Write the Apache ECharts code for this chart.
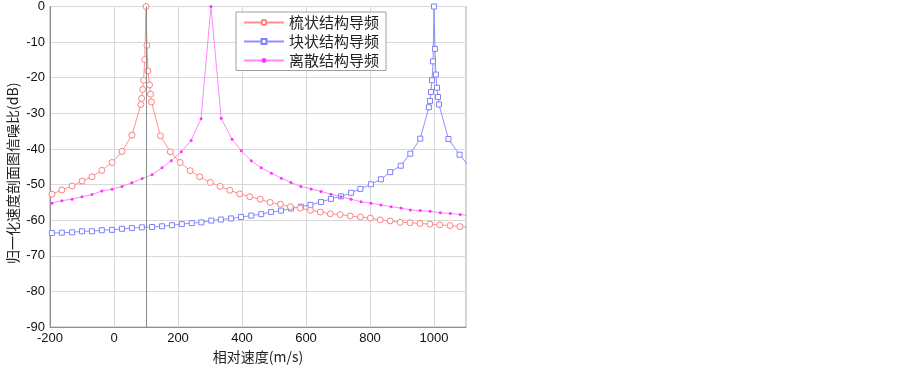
<!DOCTYPE html>
<html>
<head>
<meta charset="utf-8">
<script src="https://cdn.jsdelivr.net/npm/echarts@6/dist/echarts.min.js"></script>
<style>
  html, body { margin: 0; padding: 0; background: #fff; }
  #chart { width: 903px; height: 369px; }
</style>
</head>
<body>
<div id="chart"></div>
<script>
// 梳状结构导频
var combX = [-194, -163, -131, -100, -69, -38, -6, 25, 56, 84, 86.5, 89.5, 92.5, 96, 100,
	103, 106, 111, 114, 117, 145, 176, 207, 238, 268, 301, 332, 362, 393, 424, 457, 488,
	520, 551, 582, 614, 645, 676, 707, 738, 770, 801, 832, 863, 894, 925, 956, 987, 1018,
	1050, 1081, 1112];
var combY = [-52.7, -51.5, -50.4, -49.0, -47.8, -46.0, -43.8, -40.7, -36.1, -27.5, -25.8,
	-23.3, -20.7, -14.9, 0, -10.9, -18.1, -22.0, -24.6, -26.8, -36.3, -40.8, -43.8, -46.1,
	-47.8, -49.4, -50.5, -51.6, -52.6, -53.4, -54.1, -55.0, -55.5, -56.2, -56.6, -57.2,
	-57.7, -58.2, -58.4, -58.8, -59.1, -59.4, -59.9, -60.2, -60.6, -60.7, -60.9, -61.1,
	-61.3, -61.5, -61.8, -62.0];

// 块状结构导频
var blockX = [-194, -163, -131, -100, -69, -38, -6, 25, 56, 87, 119, 150, 181, 212, 243,
	273, 304, 334, 366, 397, 429, 460, 491, 522, 553, 584, 614, 647, 678, 709, 741, 770,
	803, 834, 863, 896, 926, 957, 984, 987.5, 990.6, 993.8, 997, 1000, 1003, 1006, 1009.4,
	1012.5, 1015.6, 1045, 1080, 1112];
var blockY = [-63.6, -63.5, -63.4, -63.1, -63.1, -62.8, -62.7, -62.4, -62.2, -62.0, -61.9,
	-61.7, -61.4, -61.1, -60.8, -60.6, -60.1, -59.8, -59.5, -59.1, -58.7, -58.3, -57.7,
	-57.3, -56.7, -56.2, -55.7, -54.9, -54.0, -53.3, -52.3, -51.2, -49.9, -48.5, -46.5,
	-44.7, -41.3, -37.1, -28.3, -26.5, -24.0, -20.7, -15.4, 0, -11.9, -19.1, -22.8, -25.4,
	-27.5, -37.2, -41.6, -45.2];

// 离散结构导频
var discX = [-194, -163, -131, -100, -69, -38, -6, 25, 56, 88, 119, 150, 179, 210, 241,
	272, 303, 335, 369, 398, 429, 460, 492, 523, 553, 584, 616, 647, 678, 709, 741, 772,
	803, 834, 866, 897, 926, 957, 988, 1020, 1051, 1082, 1113];
var discY = [-55.2, -54.5, -54.1, -53.4, -52.8, -51.8, -51.3, -50.5, -49.5, -48.3, -47.2,
	-45.3, -43.3, -40.8, -37.6, -31.5, 0, -31.4, -37.3, -40.5, -43.3, -45.3, -46.8, -48.2,
	-49.4, -50.5, -51.2, -51.9, -52.7, -53.4, -54.1, -54.8, -55.2, -55.7, -56.2, -56.6,
	-57.1, -57.3, -57.5, -57.9, -58.1, -58.4, -58.7];

var seriesNames = ['梳状结构导频', '块状结构导频', '离散结构导频'];
var refLineX = 100;

function pairs(xs, ys) {
	var out = [];
	for (var i = 0; i < xs.length; i++) {
		out.push([xs[i], ys[i]]);
	}
	return out;
}

var myChart = echarts.init(document.getElementById('chart'));
var option = {
	backgroundColor: '#fff',
	animation: false,
	grid: {
		left: 50,
		right: 437,
		top: 6,
		bottom: 36,
		show: true,
		borderColor: '#a0a0a0',
		borderWidth: 1
	},
	legend: {
		orient: 'vertical',
		left: 236,
		top: 12,
		padding: [1.5, 7, 1, 7],
		itemGap: 1,
		itemWidth: 40,
		itemHeight: 6,
		backgroundColor: '#fff',
		borderColor: '#a0a0a0',
		borderWidth: 1,
		borderRadius: 0,
		textStyle: {
			fontFamily: 'Noto Sans CJK SC',
			fontSize: 15,
			lineHeight: 18,
			color: '#222'
		},
		data: seriesNames
	},
	xAxis: {
		type: 'value',
		min: -200,
		max: 1100,
		interval: 200,
		name: '相对速度(m/s)',
		nameLocation: 'middle',
		nameGap: 18,
		nameTextStyle: {
			fontFamily: 'Noto Sans CJK SC',
			fontSize: 14,
			color: '#222'
		},
		axisLine: { onZero: false, lineStyle: { color: '#909090' } },
		axisTick: { show: false },
		axisLabel: {
			margin: 5,
			showMaxLabel: false,
			fontFamily: 'Liberation Sans',
			fontSize: 13,
			color: '#111',
			formatter: function(v) { return String(v); }
		},
		splitLine: { lineStyle: { color: '#d8d8d8', width: 1 } }
	},
	yAxis: {
		type: 'value',
		min: -90,
		max: 0,
		interval: 10,
		name: '归一化速度剖面图信噪比(dB)',
		nameLocation: 'middle',
		nameGap: 30,
		nameTextStyle: {
			fontFamily: 'Noto Sans CJK SC',
			fontSize: 14,
			color: '#222',
			padding: [0, 13, 0, 0]
		},
		axisLine: { show: true, onZero: false, lineStyle: { color: '#909090' } },
		axisTick: { show: false },
		axisLabel: {
			margin: 5,
			fontFamily: 'Liberation Sans',
			fontSize: 13,
			color: '#111'
		},
		splitLine: { lineStyle: { color: '#d8d8d8', width: 1 } }
	},
	series: [{
			name: seriesNames[0],
			type: 'line',
			data: pairs(combX, combY),
			symbol: 'circle',
			symbolSize: 6,
			itemStyle: { color: '#fff', borderColor: '#ff7f7f', borderWidth: 1 },
			lineStyle: { color: '#ff9090', width: 1 },
			markLine: {
				silent: true,
				symbol: 'none',
				label: { show: false },
				lineStyle: { color: '#8a8a8a', type: 'solid', width: 1 },
				data: [{ xAxis: refLineX }]
			},
			z: 3
		},
		{
			name: seriesNames[1],
			type: 'line',
			data: pairs(blockX, blockY),
			symbol: 'rect',
			symbolSize: 5,
			itemStyle: { color: '#fff', borderColor: '#7f7fff', borderWidth: 1 },
			lineStyle: { color: '#9090ff', width: 1 },
			z: 2
		},
		{
			name: seriesNames[2],
			type: 'line',
			data: pairs(discX, discY),
			symbol: 'circle',
			symbolSize: 3,
			itemStyle: { color: '#ff33ff' },
			lineStyle: { color: '#ff88ff', width: 1 },
			z: 2
		}
	]
};
myChart.setOption(option);
</script>
</body>
</html>
